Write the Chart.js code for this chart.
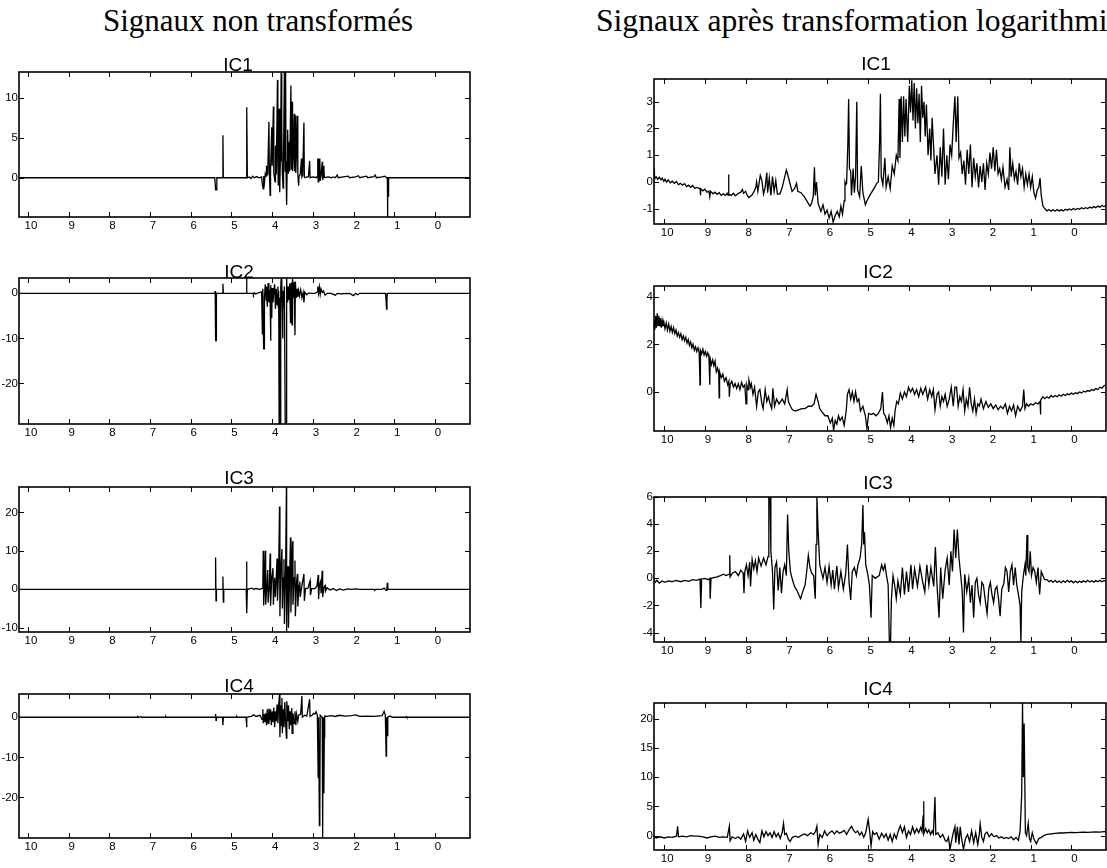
<!DOCTYPE html>
<html>
<head>
<meta charset="utf-8">
<script src="https://cdn.jsdelivr.net/npm/chart.js@4.4.0/dist/chart.umd.min.js"></script>
<style>
  html, body { margin: 0; padding: 0; background: #fff; }
  body { width: 1107px; height: 868px; position: relative; overflow: hidden; }
  canvas { position: absolute; }
  .main { position: absolute; font-family: 'Liberation Serif', 'Times New Roman', serif; font-size: 31px; line-height: 1; white-space: nowrap; color: #000; z-index: 2; }
  .sub { position: absolute; width: 100px; text-align: center; font-family: 'Liberation Sans', Arial, sans-serif; font-size: 19px; line-height: 1; color: #000; z-index: 2; }
</style>
</head>
<body>
<div class="main" style="left:103px; top:5px;">Signaux non transformés</div>
<div class="main" style="left:596px; top:5px; font-size:31.6px;">Signaux après transformation logarithmique</div>
<div class="sub" style="left:188px; top:55px;">IC1</div>
<div class="sub" style="left:189px; top:262px;">IC2</div>
<div class="sub" style="left:189px; top:468px;">IC3</div>
<div class="sub" style="left:189px; top:676px;">IC4</div>
<div class="sub" style="left:826px; top:54px;">IC1</div>
<div class="sub" style="left:828px; top:262px;">IC2</div>
<div class="sub" style="left:828px; top:473px;">IC3</div>
<div class="sub" style="left:828px; top:679px;">IC4</div>
<script>
// ---- data: chemical shift (ppm) vs intensity ----
const ppmTicks = [10, 9, 8, 7, 6, 5, 4, 3, 2, 1, 0];
const ppmMin = -0.86;
const ppmMax = 10.22;

const rawIC1Ticks = [0, 5, 10];
const rawIC2Ticks = [-20, -10, 0];
const rawIC3Ticks = [-10, 0, 10, 20];
const rawIC4Ticks = [-20, -10, 0];
const logIC1Ticks = [-1, 0, 1, 2, 3];
const logIC2Ticks = [0, 2, 4];
const logIC3Ticks = [-4, -2, 0, 2, 4, 6];
const logIC4Ticks = [0, 5, 10, 15, 20];

const rawIC1 = [
  [10.22,0],[5.41,0],[5.39,-1.5],[5.37,-1.5],[5.36,0],[5.22,0],[5.21,5.3],[5.20,0],
  [4.64,0],[4.63,2.8],[4.62,8.8],[4.61,0],[4.56,0.1],[4.52,-0.1],[4.48,0.2],[4.44,0],[4.38,0.15],[4.32,0],
  [4.26,0.1],[4.24,-0.9],[4.22,-1.4],[4.21,0.2],[4.19,-0.6],[4.17,0.5],[4.15,0.2],
  [4.14,1.5],[4.11,0.3],[4.08,7.0],[4.07,0.8],[4.05,-2.2],[4.04,1.0],[4.01,6.3],[4.00,1.5],[3.97,8.9],
  [3.96,0.6],[3.93,-0.5],[3.92,4.0],[3.90,0.4],[3.87,12.2],[3.86,1.5],[3.85,-1.0],[3.83,8.6],[3.82,0.5],
  [3.81,-1.8],[3.79,4.5],[3.78,13.2],[3.77,2.0],[3.76,6.5],[3.75,0.5],[3.73,-1.3],[3.72,3.0],[3.70,13.2],
  [3.69,3.0],[3.68,0.8],[3.67,13.2],[3.66,1.0],[3.645,-3.4],[3.63,2.0],[3.62,6.0],[3.60,0.5],[3.58,4.5],
  [3.57,0.8],[3.54,11.5],[3.53,1.0],[3.51,9.5],[3.50,0.8],[3.48,3.0],[3.46,8.0],[3.45,0.8],[3.43,7.8],
  [3.42,0.6],[3.40,3.5],[3.38,7.7],[3.37,0.5],[3.35,-1.0],[3.34,0.2],[3.31,0.4],[3.28,2.4],[3.27,0.1],
  [3.25,0.3],[3.22,6.9],[3.21,0.1],[3.19,0],[3.15,0.1],[3.11,0.1],[3.08,2.1],[3.07,0],[3.00,0.1],[2.92,0],
  [2.89,0.2],[2.88,2.4],[2.87,-0.5],[2.86,2.4],[2.85,-0.3],[2.83,2.4],[2.82,-0.4],[2.80,0.3],[2.77,2.0],
  [2.76,-0.3],[2.73,1.5],[2.72,0],[2.62,0.1],[2.55,0],[2.50,0.1],[2.45,0],[2.40,0.35],[2.38,0],[2.25,0.1],
  [2.13,0.2],[2.10,0],[1.95,0.1],[1.88,0.25],[1.85,0],[1.68,0.2],[1.65,0],[1.50,0.15],[1.47,0.35],[1.44,0],
  [1.30,0.1],[1.23,0.2],[1.19,0],[1.17,0],[1.165,-4.9],[1.16,-0.5],[1.15,-2.3],[1.14,0],[-0.86,0]
];

const rawIC2 = [
  [10.22,0],[5.41,0],[5.40,0.5],[5.39,-10.5],[5.38,-10.5],[5.37,0],[5.22,0],[5.21,2.1],[5.20,0],
  [4.64,0],[4.63,3.4],[4.62,0],[4.47,0],[4.46,-0.3],[4.44,0.1],[4.40,-0.2],[4.38,0],
  [4.26,0.3],[4.24,-9.0],[4.23,1.0],[4.21,-12.3],[4.20,-12.3],[4.19,-1.0],[4.17,2.0],[4.15,-1.5],[4.14,1.5],
  [4.12,-3.0],[4.10,2.3],[4.08,-2.0],[4.06,0.8],[4.05,-1.0],[4.04,-10.5],[4.03,1.8],[4.01,-5.5],[4.00,1.2],
  [3.98,-2.0],[3.96,0.5],[3.94,2.0],[3.92,-3.5],[3.90,1.0],[3.88,-2.5],[3.86,1.5],[3.85,-3.0],[3.84,0.5],
  [3.83,-29],[3.82,-1.0],[3.80,-29],[3.79,1.0],[3.78,3.4],[3.77,-2.0],[3.76,3.4],[3.74,-10.0],[3.73,0.5],
  [3.72,-3.0],[3.70,1.5],[3.68,-29],[3.67,-29],[3.66,-29],[3.65,-29],[3.64,3.4],[3.63,-1.0],[3.62,-2.0],
  [3.61,1.5],[3.59,-1.5],[3.57,2.2],[3.55,-6.5],[3.54,1.5],[3.53,2.4],[3.51,-7.0],[3.50,3.4],[3.48,-1.0],
  [3.46,2.5],[3.44,-9.3],[3.43,2.6],[3.41,-1.0],[3.39,1.0],[3.37,-0.8],[3.35,0.6],[3.33,-0.6],[3.30,0.8],
  [3.27,-1.0],[3.24,0.2],[3.22,-2.0],[3.20,0.3],[3.15,-0.3],[3.10,0.1],[3.05,0],[2.95,0],[2.89,0.3],
  [2.88,1.5],[2.86,0],[2.84,1.4],[2.82,-0.2],[2.80,1.0],[2.77,0.2],[2.74,0.5],[2.70,-0.4],[2.65,0],
  [2.55,0],[2.45,-0.4],[2.40,0],[2.30,-0.1],[2.10,0],[2.00,-0.5],[1.95,0],[1.90,-0.3],[1.85,0],
  [1.22,0],[1.21,-0.5],[1.19,-3.5],[1.18,-1.0],[1.17,0],[-0.86,0]
];

const rawIC3 = [
  [10.22,0],[5.40,0],[5.39,8.3],[5.38,-3.0],[5.37,0],[5.22,0],[5.21,3.3],[5.20,-3.3],[5.19,0],
  [4.64,0],[4.63,7.2],[4.62,-6.2],[4.61,0],[4.50,0.3],[4.45,0],[4.40,0.2],[4.30,0],
  [4.23,0.3],[4.22,10.0],[4.21,-4.2],[4.19,0.5],[4.17,10.0],[4.16,-4.0],[4.13,1.0],[4.11,5.0],[4.10,-3.5],
  [4.07,1.0],[4.05,9.3],[4.04,-4.3],[4.01,3.0],[3.98,5.5],[3.97,-4.0],[3.94,3.0],[3.92,-2.0],[3.90,3.0],
  [3.88,8.0],[3.87,-3.0],[3.84,5.0],[3.82,21.5],[3.81,-7.0],[3.79,4.0],[3.76,10.5],[3.75,-5.0],[3.73,3.0],
  [3.71,7.8],[3.70,-9.0],[3.67,5.0],[3.65,26.6],[3.645,-11.1],[3.63,4.0],[3.61,6.0],[3.60,-10.0],[3.57,4.0],
  [3.55,13.5],[3.54,-6.0],[3.52,5.0],[3.50,12.5],[3.49,-4.0],[3.46,3.0],[3.44,7.5],[3.43,-7.0],[3.40,2.0],
  [3.38,4.0],[3.37,-4.5],[3.34,1.0],[3.32,2.0],[3.31,-2.0],[3.28,0.3],[3.22,4.0],[3.21,-3.0],[3.18,0.2],
  [3.12,0.3],[3.07,2.2],[3.06,-1.5],[3.03,0.2],[2.95,0.2],[2.90,0.8],[2.87,3.7],[2.86,-2.5],[2.84,1.0],
  [2.81,2.0],[2.80,-1.0],[2.77,4.8],[2.76,-2.0],[2.73,0.5],[2.70,1.0],[2.69,-0.5],[2.65,0.4],[2.58,-0.2],
  [2.50,0.2],[2.42,-0.3],[2.35,0.1],[2.25,-0.2],[2.15,0.1],[2.05,0],[1.95,0.1],[1.85,0],[1.50,0],
  [1.48,-0.3],[1.46,0],[1.30,0],[1.25,0.3],[1.20,-0.3],[1.18,0.5],[1.17,1.7],[1.16,0.2],[1.14,0],[-0.86,0]
];

const rawIC4 = [
  [10.22,0],[7.32,0],[7.30,0.2],[7.27,0],[7.22,0.15],[7.20,0],[6.62,0],[6.61,0.2],[6.60,0],
  [5.40,0],[5.39,0.8],[5.38,-0.8],[5.37,0],[5.22,0],[5.21,-2.0],[5.20,0],[4.88,0],[4.87,0.2],[4.86,0],
  [4.64,0],[4.63,-2.5],[4.62,0],[4.50,0.3],[4.45,0.6],[4.40,0.2],[4.30,0.5],[4.25,-0.5],[4.23,2.0],
  [4.22,-1.5],[4.20,0.8],[4.18,-1.2],[4.16,1.0],[4.14,-2.0],[4.12,2.0],[4.10,-1.5],[4.08,2.2],[4.06,-0.8],
  [4.04,2.0],[4.02,-2.0],[4.00,1.5],[3.98,-1.2],[3.96,2.4],[3.94,-2.5],[3.92,1.5],[3.90,-1.0],[3.88,3.2],
  [3.86,-1.5],[3.84,3.0],[3.82,5.8],[3.81,-5.0],[3.79,3.0],[3.78,-2.0],[3.76,4.8],[3.75,-4.0],[3.73,2.0],
  [3.71,-2.5],[3.69,3.8],[3.67,-1.5],[3.65,-5.2],[3.64,4.0],[3.62,-1.0],[3.60,3.0],[3.58,-3.0],[3.56,1.5],
  [3.55,-2.0],[3.52,2.3],[3.51,-4.0],[3.49,1.0],[3.46,-1.5],[3.44,1.5],[3.42,-2.0],[3.40,0.8],[3.37,-1.0],
  [3.35,0.5],[3.30,0.8],[3.27,5.3],[3.26,0],[3.20,0.5],[3.15,0.3],[3.08,4.5],[3.07,0.2],[3.02,0.5],
  [2.98,1.0],[2.95,0.8],[2.92,1.4],[2.89,0.5],[2.88,0.5],[2.87,-15],[2.86,0],[2.84,-27],[2.83,-26],
  [2.82,0.5],[2.77,0],[2.76,-30.1],[2.75,0],[2.73,-19],[2.72,-5],[2.71,0.3],[2.65,0.2],[2.55,0.4],
  [2.45,0.2],[2.35,0.5],[2.20,0.3],[2.05,0.4],[1.95,0.6],[1.85,0.2],[1.70,0.3],[1.50,0.2],[1.30,0.4],
  [1.25,1.5],[1.22,0.5],[1.20,-9.7],[1.19,0],[1.17,-4.6],[1.16,0],[1.10,0.3],[1.05,0],[0.72,0],
  [0.70,0.2],[0.69,0],[-0.86,0]
];

const logIC1 = [
  [10.25,0.5],[10.24,0.1],[10.20,0.2],[10.16,0.1],[10.12,0.18],[10.08,0.08],[10.05,0.15],[10.01,0.03],
  [9.98,0.1],[9.94,0.0],[9.90,0.08],[9.85,-0.03],[9.80,0.03],[9.75,-0.05],[9.70,0.02],[9.65,-0.1],
  [9.60,-0.05],[9.55,-0.12],[9.50,-0.06],[9.45,-0.17],[9.40,-0.12],[9.35,-0.2],[9.30,-0.13],[9.25,-0.24],
  [9.20,-0.2],[9.12,-0.25],[9.11,-0.5],[9.10,-0.25],[9.05,-0.33],[9.00,-0.27],[8.95,-0.38],[8.90,-0.34],
  [8.88,-0.55],[8.86,-0.35],[8.80,-0.44],[8.75,-0.38],[8.70,-0.46],[8.65,-0.4],[8.60,-0.5],[8.55,-0.44],
  [8.50,-0.5],[8.45,-0.42],[8.43,-0.5],[8.42,0.28],[8.41,-0.45],[8.35,-0.5],[8.30,-0.42],[8.25,-0.52],
  [8.20,-0.45],[8.12,-0.38],[8.08,-0.28],[8.05,-0.42],[8.00,-0.35],[7.96,-0.5],[7.92,-0.58],[7.85,-0.5],
  [7.80,-0.38],[7.75,-0.2],[7.73,0.0],[7.70,-0.35],[7.64,0.25],[7.60,0.05],[7.56,-0.45],[7.52,-0.2],
  [7.48,0.35],[7.46,-0.4],[7.42,0.15],[7.38,-0.5],[7.34,0.2],[7.30,-0.35],[7.26,0.05],[7.22,-0.45],
  [7.16,-0.45],[7.10,-0.2],[7.00,0.45],[6.97,0.3],[6.92,0.0],[6.86,-0.35],[6.80,-0.25],[6.75,-0.05],
  [6.72,-0.35],[6.64,-0.4],[6.56,-0.55],[6.48,-0.75],[6.42,-0.9],[6.38,-0.8],[6.34,-0.55],[6.31,0.55],
  [6.29,-0.5],[6.26,0.0],[6.22,-0.8],[6.15,-1.1],[6.10,-0.85],[6.05,-1.2],[6.00,-1.05],[5.95,-1.35],
  [5.90,-1.1],[5.85,-1.5],[5.80,-1.25],[5.75,-1.1],[5.70,-1.3],[5.66,-0.9],[5.62,-1.2],[5.58,-0.7],
  [5.56,0.0],[5.54,-0.1],[5.52,-0.05],[5.49,1.4],[5.47,3.1],[5.45,0.5],[5.42,0.4],[5.40,-0.5],[5.36,0.5],
  [5.33,-0.4],[5.30,0.2],[5.27,3.0],[5.25,-0.3],[5.20,-0.55],[5.16,0.6],[5.12,-0.4],[5.06,-0.85],
  [5.02,-0.7],[4.95,-0.5],[4.85,-0.25],[4.78,-0.05],[4.74,0.0],[4.71,1.5],[4.69,3.3],[4.67,0.2],
  [4.63,-0.1],[4.58,0.9],[4.55,-0.2],[4.50,0.2],[4.45,-0.25],[4.40,0.6],[4.35,0.3],[4.30,1.0],[4.26,0.8],
  [4.23,3.1],[4.21,0.9],[4.18,3.2],[4.15,1.5],[4.12,3.2],[4.09,1.7],[4.06,3.1],[4.02,1.5],[3.98,3.6],
  [3.95,2.6],[3.92,3.8],[3.89,2.3],[3.86,3.7],[3.83,2.0],[3.80,3.5],[3.77,2.2],[3.74,3.3],[3.71,1.5],
  [3.68,3.6],[3.65,2.4],[3.62,3.0],[3.59,1.7],[3.56,2.9],[3.52,1.0],[3.48,2.0],[3.45,0.8],[3.42,2.4],
  [3.38,1.2],[3.35,0.3],[3.30,1.0],[3.26,-0.1],[3.22,1.3],[3.18,0.2],[3.14,2.0],[3.10,-0.1],[3.06,1.0],
  [3.02,0.1],[2.98,1.4],[2.94,1.0],[2.90,2.2],[2.86,3.2],[2.83,1.5],[2.79,3.2],[2.76,0.9],[2.72,1.1],
  [2.68,0.3],[2.64,0.8],[2.60,-0.1],[2.56,1.2],[2.52,0.3],[2.48,1.4],[2.44,-0.2],[2.40,0.9],[2.36,0.2],
  [2.32,0.7],[2.28,-0.2],[2.24,0.6],[2.20,0.0],[2.16,0.7],[2.12,-0.3],[2.08,0.7],[2.04,0.3],[2.00,1.1],
  [1.96,0.5],[1.92,1.3],[1.88,0.4],[1.84,1.2],[1.80,0.3],[1.76,0.5],[1.72,0.1],[1.68,0.55],[1.63,-0.2],
  [1.58,0.1],[1.54,-0.3],[1.51,1.3],[1.48,0.2],[1.44,0.7],[1.40,0.1],[1.36,0.4],[1.32,-0.1],[1.28,0.7],
  [1.24,0.2],[1.20,0.5],[1.16,-0.2],[1.12,0.3],[1.08,-0.1],[1.04,0.3],[1.00,-0.2],[0.96,0.2],[0.92,-0.4],
  [0.88,-0.6],[0.84,-0.3],[0.80,-0.2],[0.77,0.15],[0.74,-0.5],[0.70,-0.9],[0.64,-1.02],[0.60,-1.08],
  [0.55,-1.03],[0.50,-1.09],[0.45,-1.04],[0.40,-1.09],[0.35,-1.03],[0.30,-1.08],[0.25,-1.04],[0.20,-1.08],
  [0.15,-1.02],[0.10,-1.06],[0.05,-1.01],[0.00,-1.05],[-0.05,-0.99],[-0.10,-1.04],[-0.15,-0.99],
  [-0.20,-1.02],[-0.25,-0.96],[-0.30,-1.0],[-0.35,-0.96],[-0.40,-0.99],[-0.45,-0.94],[-0.50,-0.97],
  [-0.55,-0.92],[-0.60,-0.96],[-0.65,-0.9],[-0.70,-0.94],[-0.75,-0.88],[-0.80,-0.92],[-0.86,-0.88]
];

const logIC2 = [
  [10.25,3.0],[10.23,2.6],[10.21,3.2],[10.19,2.7],[10.17,3.3],[10.15,2.8],[10.13,3.2],[10.11,2.75],
  [10.09,3.1],[10.07,2.7],[10.05,3.0],[10.03,2.75],[10.01,2.95],[9.98,2.65],[9.95,2.9],[9.92,2.6],
  [9.89,2.85],[9.86,2.55],[9.83,2.75],[9.80,2.5],[9.77,2.7],[9.74,2.45],[9.71,2.6],[9.68,2.35],[9.65,2.5],
  [9.62,2.3],[9.59,2.45],[9.56,2.2],[9.53,2.35],[9.50,2.15],[9.47,2.3],[9.44,2.05],[9.41,2.2],[9.38,1.95],
  [9.35,2.1],[9.32,1.85],[9.29,2.0],[9.26,1.75],[9.23,1.9],[9.20,1.7],[9.17,1.85],[9.14,1.65],[9.12,0.3],
  [9.11,1.75],[9.08,1.6],[9.05,1.8],[9.02,1.55],[8.99,1.7],[8.96,1.5],[8.93,1.65],[8.90,1.45],[8.88,0.3],
  [8.87,1.4],[8.84,1.15],[8.81,1.35],[8.78,1.1],[8.75,1.3],[8.72,0.85],[8.69,1.0],[8.66,0.75],[8.65,-0.25],
  [8.64,0.85],[8.60,0.6],[8.56,0.75],[8.52,0.45],[8.48,0.6],[8.44,0.3],[8.41,0.45],[8.40,-0.2],[8.38,0.3],
  [8.34,0.45],[8.30,0.2],[8.26,0.35],[8.22,0.15],[8.18,0.35],[8.14,0.1],[8.10,0.4],[8.06,0.2],[8.02,0.3],
  [7.99,-0.5],[7.97,0.3],[7.94,0.1],[7.92,0.5],[7.88,0.2],[7.86,0.35],[7.82,-0.1],[7.78,0.2],[7.73,-0.6],
  [7.69,0.0],[7.65,0.1],[7.60,-0.5],[7.57,-0.7],[7.52,0.1],[7.48,-0.4],[7.44,-0.2],[7.40,-0.5],[7.36,-0.7],
  [7.33,0.15],[7.29,-0.6],[7.24,-0.3],[7.18,-0.5],[7.10,-0.3],[7.04,-0.5],[6.98,0.1],[6.95,-0.4],
  [6.90,-0.6],[6.85,-0.75],[6.78,-0.8],[6.70,-0.75],[6.62,-0.7],[6.54,-0.7],[6.46,-0.6],[6.38,-0.6],
  [6.32,-0.5],[6.27,-0.1],[6.22,-0.4],[6.18,-0.7],[6.12,-0.85],[6.05,-1.0],[5.98,-1.0],[5.92,-1.3],
  [5.87,-1.1],[5.84,-1.6],[5.80,-1.2],[5.76,-1.35],[5.72,-1.0],[5.68,-1.2],[5.63,-1.05],[5.58,-1.4],
  [5.53,-0.8],[5.50,-0.1],[5.46,0.1],[5.42,-0.3],[5.38,0.0],[5.34,-0.4],[5.30,0.0],[5.26,-0.4],[5.22,-0.3],
  [5.18,-0.8],[5.12,-0.6],[5.06,-1.0],[5.02,-1.55],[4.98,-0.9],[4.92,-0.95],[4.86,-0.9],[4.80,-1.0],
  [4.74,-0.9],[4.68,-0.7],[4.64,0.0],[4.61,-0.9],[4.57,-1.0],[4.52,-1.3],[4.48,-1.0],[4.44,-1.5],
  [4.40,-1.1],[4.36,-1.4],[4.33,-0.8],[4.29,-0.4],[4.25,-0.5],[4.20,-0.05],[4.15,-0.3],[4.10,0.0],
  [4.05,-0.2],[4.00,0.2],[3.95,0.0],[3.90,0.15],[3.85,-0.1],[3.80,0.1],[3.75,-0.2],[3.70,0.15],[3.65,-0.1],
  [3.58,0.2],[3.53,-0.3],[3.48,0.1],[3.43,-0.2],[3.39,0.1],[3.35,-0.75],[3.30,-0.1],[3.26,0.0],[3.22,-0.6],
  [3.18,-0.2],[3.14,-0.4],[3.10,-0.1],[3.05,-0.6],[3.00,-0.3],[2.95,0.2],[2.90,-0.6],[2.86,0.2],[2.82,0.2],
  [2.78,-0.6],[2.74,-0.2],[2.70,-0.4],[2.66,0.1],[2.62,-0.8],[2.58,-0.3],[2.54,-0.6],[2.50,0.2],[2.46,-0.5],
  [2.42,-0.8],[2.38,-0.3],[2.34,-0.9],[2.30,-0.5],[2.26,-0.6],[2.22,-0.3],[2.16,-0.7],[2.10,-0.4],
  [2.04,-0.65],[1.98,-0.5],[1.92,-0.7],[1.86,-0.55],[1.80,-0.75],[1.74,-0.6],[1.68,-0.7],[1.62,-0.5],
  [1.57,-0.9],[1.52,-0.6],[1.47,-0.8],[1.42,-0.55],[1.37,-1.0],[1.32,-0.6],[1.26,-0.8],[1.20,-0.6],
  [1.17,0.1],[1.14,-0.7],[1.10,-0.5],[1.05,-0.6],[1.00,-0.5],[0.94,-0.55],[0.88,-0.45],[0.82,-0.5],
  [0.77,-0.4],[0.76,-0.95],[0.75,-0.35],[0.70,-0.2],[0.65,-0.28],[0.60,-0.2],[0.55,-0.26],[0.50,-0.15],
  [0.45,-0.22],[0.40,-0.15],[0.35,-0.2],[0.30,-0.12],[0.25,-0.18],[0.20,-0.1],[0.15,-0.15],[0.10,-0.08],
  [0.05,-0.12],[0.00,-0.05],[-0.05,-0.1],[-0.10,-0.03],[-0.15,-0.07],[-0.20,0.0],[-0.25,-0.04],
  [-0.30,0.03],[-0.35,0.0],[-0.40,0.06],[-0.45,0.03],[-0.50,0.1],[-0.55,0.06],[-0.60,0.14],[-0.65,0.1],
  [-0.70,0.2],[-0.75,0.16],[-0.80,0.26],[-0.86,0.3]
];

const logIC3 = [
  [10.25,-0.1],[10.22,-0.3],[10.18,-0.15],[10.12,-0.35],[10.05,-0.2],[9.98,-0.3],[9.90,-0.2],[9.80,-0.25],
  [9.70,-0.15],[9.60,-0.25],[9.50,-0.15],[9.40,-0.22],[9.30,-0.1],[9.20,-0.15],[9.12,-0.05],[9.10,-2.2],
  [9.08,-0.05],[9.00,0.0],[8.92,-0.1],[8.88,0.0],[8.87,-1.5],[8.85,0.0],[8.78,0.05],[8.70,0.1],[8.62,0.2],
  [8.55,0.3],[8.48,0.2],[8.40,0.3],[8.39,1.7],[8.38,0.1],[8.32,0.4],[8.25,0.5],[8.18,0.2],[8.12,0.6],
  [8.06,0.4],[8.04,-1.1],[8.02,0.5],[7.98,1.0],[7.94,0.2],[7.90,1.2],[7.88,-0.6],[7.84,1.4],[7.80,0.7],
  [7.76,1.3],[7.72,0.5],[7.68,1.5],[7.62,0.9],[7.56,1.5],[7.50,1.0],[7.45,1.6],[7.43,6.0],[7.40,6.0],
  [7.38,2.0],[7.34,0.5],[7.31,-2.3],[7.28,0.8],[7.24,1.2],[7.20,-0.9],[7.16,0.8],[7.12,-1.1],[7.08,0.5],
  [7.04,1.0],[7.00,0.2],[6.97,4.7],[6.94,2.0],[6.90,0.5],[6.86,0.0],[6.80,-0.6],[6.74,-0.9],[6.68,-1.3],
  [6.65,-1.5],[6.60,-1.0],[6.54,-0.5],[6.50,0.5],[6.46,1.7],[6.42,0.8],[6.38,0.4],[6.33,0.2],[6.29,-1.5],
  [6.27,2.5],[6.25,6.0],[6.22,3.5],[6.18,1.0],[6.14,0.5],[6.10,0.0],[6.05,0.8],[6.00,-0.3],[5.95,0.9],
  [5.90,-0.5],[5.86,0.6],[5.82,-0.8],[5.76,0.9],[5.72,-0.7],[5.66,0.5],[5.60,-0.8],[5.54,0.4],[5.50,2.5],
  [5.46,-0.3],[5.42,-1.6],[5.38,0.5],[5.33,0.8],[5.28,0.2],[5.24,1.0],[5.19,1.5],[5.15,2.5],[5.12,5.4],
  [5.10,2.5],[5.08,3.4],[5.05,1.0],[5.00,0.3],[4.96,-0.5],[4.92,-2.9],[4.89,0.2],[4.82,0.0],[4.72,0.2],
  [4.66,1.0],[4.62,0.6],[4.58,1.0],[4.54,0.2],[4.50,-0.5],[4.47,-4.7],[4.44,-4.7],[4.42,-1.5],[4.38,0.2],
  [4.34,-0.5],[4.30,-1.5],[4.26,-0.2],[4.20,-1.2],[4.15,0.8],[4.10,-1.2],[4.05,0.5],[4.00,-1.0],[3.94,1.0],
  [3.90,-0.8],[3.85,0.7],[3.78,-0.6],[3.72,0.9],[3.65,-0.3],[3.60,-1.0],[3.55,1.0],[3.50,-0.5],[3.45,0.8],
  [3.38,-0.6],[3.34,2.3],[3.30,-0.5],[3.25,-2.9],[3.21,0.8],[3.16,-1.5],[3.10,0.6],[3.05,1.5],[3.00,-0.5],
  [2.96,2.0],[2.92,0.5],[2.88,3.6],[2.84,1.5],[2.80,3.6],[2.76,1.5],[2.72,0.3],[2.68,-1.0],[2.65,-4.0],
  [2.62,0.3],[2.57,-1.0],[2.52,0.0],[2.48,-1.8],[2.44,-0.5],[2.40,-2.9],[2.36,-0.3],[2.32,0.0],[2.28,-1.2],
  [2.24,-1.8],[2.20,-0.3],[2.16,-0.5],[2.12,-1.5],[2.07,-2.6],[2.03,-0.8],[1.99,-0.3],[1.95,-1.2],
  [1.91,-1.8],[1.87,-0.8],[1.83,-0.6],[1.79,-1.5],[1.75,-2.8],[1.71,-0.8],[1.66,-0.4],[1.62,0.8],[1.58,0.5],
  [1.54,-1.0],[1.50,0.5],[1.46,1.0],[1.42,-0.5],[1.38,0.8],[1.34,-0.5],[1.30,-1.2],[1.26,-2.0],[1.24,-4.7],
  [1.22,-1.0],[1.18,0.2],[1.14,1.0],[1.12,0.2],[1.09,3.2],[1.07,0.8],[1.04,0.5],[1.01,2.0],[0.98,0.2],
  [0.94,0.8],[0.90,0.5],[0.86,-0.3],[0.82,0.8],[0.78,-1.2],[0.74,0.5],[0.70,0.2],[0.66,-0.1],[0.60,-0.1],
  [0.55,-0.25],[0.50,-0.15],[0.45,-0.3],[0.40,-0.15],[0.35,-0.3],[0.30,-0.2],[0.25,-0.32],[0.20,-0.18],
  [0.15,-0.3],[0.10,-0.15],[0.05,-0.28],[0.00,-0.18],[-0.05,-0.33],[-0.10,-0.2],[-0.15,-0.32],[-0.20,-0.22],
  [-0.25,-0.3],[-0.30,-0.18],[-0.35,-0.28],[-0.40,-0.15],[-0.45,-0.27],[-0.50,-0.18],[-0.55,-0.28],
  [-0.60,-0.17],[-0.65,-0.26],[-0.70,-0.15],[-0.75,-0.25],[-0.80,-0.17],[-0.86,-0.22]
];

const logIC4 = [
  [10.25,0.0],[10.20,-0.4],[10.10,-0.2],[10.00,-0.4],[9.90,-0.2],[9.80,-0.3],[9.70,-0.1],[9.67,1.6],
  [9.65,-0.2],[9.55,-0.1],[9.45,-0.2],[9.35,0.0],[9.25,-0.1],[9.15,-0.1],[9.05,-0.2],[8.95,-0.4],
  [8.85,-0.2],[8.75,-0.1],[8.65,-0.3],[8.55,-0.2],[8.45,-0.3],[8.40,1.6],[8.38,-0.9],[8.33,-0.2],
  [8.25,-0.5],[8.18,-0.2],[8.12,-0.6],[8.05,0.3],[8.00,-1.0],[7.95,0.8],[7.90,-0.3],[7.84,0.5],[7.80,-0.8],
  [7.75,0.2],[7.70,-0.6],[7.65,-1.2],[7.60,0.8],[7.55,-0.2],[7.50,0.7],[7.45,0.0],[7.40,0.5],[7.35,-0.3],
  [7.30,0.7],[7.25,-0.2],[7.20,0.4],[7.15,-0.5],[7.10,0.6],[7.07,2.1],[7.04,0.2],[7.00,0.4],[6.95,-0.6],
  [6.91,-1.0],[6.85,-0.3],[6.78,-0.1],[6.70,-0.3],[6.62,0.1],[6.55,0.3],[6.48,0.0],[6.40,0.5],[6.33,0.2],
  [6.28,0.8],[6.25,1.6],[6.22,-1.5],[6.18,0.2],[6.12,-0.3],[6.06,0.8],[6.00,0.0],[5.94,0.5],[5.88,0.8],
  [5.82,0.3],[5.76,0.8],[5.70,0.4],[5.64,0.6],[5.58,0.9],[5.52,0.2],[5.46,1.0],[5.40,1.6],[5.35,0.9],
  [5.30,0.5],[5.25,0.8],[5.20,0.1],[5.15,0.6],[5.10,-0.3],[5.05,0.5],[4.99,2.8],[4.95,0.5],[4.92,-1.8],
  [4.88,0.7],[4.84,0.2],[4.78,0.5],[4.72,-0.6],[4.66,0.4],[4.60,-0.3],[4.55,0.3],[4.50,-0.8],[4.45,0.2],
  [4.40,-1.0],[4.35,0.3],[4.30,-0.5],[4.25,0.8],[4.20,1.7],[4.15,0.5],[4.10,1.5],[4.05,-0.3],[4.00,0.8],
  [3.95,0.2],[3.90,1.5],[3.85,0.4],[3.80,1.2],[3.75,0.5],[3.70,1.4],[3.67,0.7],[3.64,3.5],[3.63,5.9],
  [3.62,0.3],[3.58,1.2],[3.54,0.5],[3.50,1.0],[3.46,0.2],[3.42,0.8],[3.39,0.3],[3.35,6.6],[3.33,0.2],
  [3.28,0.5],[3.22,-0.3],[3.16,0.2],[3.10,-0.8],[3.06,-1.0],[3.02,-0.3],[2.98,-2.3],[2.94,-0.8],[2.90,0.5],
  [2.86,1.5],[2.84,-1.2],[2.80,1.5],[2.76,-1.5],[2.73,1.5],[2.69,-0.8],[2.65,-2.3],[2.60,-0.5],[2.55,0.2],
  [2.50,-1.0],[2.45,0.8],[2.40,-1.2],[2.35,0.5],[2.30,-1.5],[2.26,0.3],[2.24,2.0],[2.20,-0.3],[2.16,-1.0],
  [2.12,0.3],[2.07,0.6],[2.02,-0.2],[1.96,0.3],[1.90,-0.2],[1.84,0.0],[1.78,-0.4],[1.72,-0.2],[1.66,-0.5],
  [1.60,-0.3],[1.54,-0.5],[1.48,-0.2],[1.42,-0.7],[1.36,-0.3],[1.30,-0.8],[1.26,0.8],[1.22,7.0],
  [1.20,22.7],[1.18,10.0],[1.16,19.2],[1.13,0.5],[1.10,0.0],[1.06,2.1],[1.03,-0.5],[1.00,-1.0],[0.96,0.5],
  [0.92,-0.6],[0.86,-1.4],[0.80,-0.5],[0.74,-0.3],[0.68,0.0],[0.60,0.2],[0.50,0.3],[0.40,0.4],[0.30,0.45],
  [0.20,0.45],[0.10,0.5],[0.00,0.55],[-0.10,0.5],[-0.20,0.55],[-0.30,0.6],[-0.40,0.55],[-0.50,0.6],
  [-0.60,0.65],[-0.70,0.6],[-0.80,0.7],[-0.86,0.7]
];

// ---- layout ----
const AX_W = 40, AX_H = 22, PAD_T = 14, PAD_R = 8;
const tickFont = { family: "'Liberation Sans', Arial, sans-serif", size: 11.5 };

// inward ticks on all four sides + box frame (Matlab look)
const frameTicks = {
  id: 'frameTicks',
  afterDatasetsDraw(chart) {
    const { ctx, chartArea: a, scales: { x, y } } = chart;
    ctx.save();
    ctx.strokeStyle = '#000';
    ctx.lineWidth = 1;
    ctx.beginPath();
    x.ticks.forEach(t => {
      const px = Math.round(x.getPixelForValue(t.value)) + 0.5;
      ctx.moveTo(px, a.bottom); ctx.lineTo(px, a.bottom - 5);
      ctx.moveTo(px, a.top); ctx.lineTo(px, a.top + 5);
    });
    y.ticks.forEach(t => {
      const py = Math.round(y.getPixelForValue(t.value)) + 0.5;
      ctx.moveTo(a.left, py); ctx.lineTo(a.left + 5, py);
      ctx.moveTo(a.right, py); ctx.lineTo(a.right - 5, py);
    });
    ctx.stroke();
    ctx.lineWidth = 1.6;
    ctx.strokeRect(a.left, a.top, a.right - a.left, a.bottom - a.top);
    ctx.restore();
  }
};

function makePanel(series, yTicks, yMin, yMax, xMin, xMax, box) {
  const [left, top, right, bottom] = box;
  const cv = document.createElement('canvas');
  const w = right - left + AX_W + PAD_R;
  const h = bottom - top + PAD_T + AX_H;
  cv.width = w; cv.height = h;
  cv.style.left = (left - AX_W) + 'px';
  cv.style.top = (top - PAD_T) + 'px';
  cv.style.width = w + 'px'; cv.style.height = h + 'px';
  document.body.appendChild(cv);

  new Chart(cv, {
    type: 'line',
    data: {
      datasets: [{
        data: series.map(([x, y]) => ({ x, y })),
        borderColor: '#000', borderWidth: 1.3, pointRadius: 0, tension: 0, fill: false
      }]
    },
    options: {
      responsive: false, animation: false, events: [],
      layout: { padding: { top: PAD_T, right: PAD_R, left: 0, bottom: 0 } },
      plugins: { legend: { display: false }, tooltip: { enabled: false }, title: { display: false } },
      scales: {
        x: {
          type: 'linear', reverse: true, min: xMin, max: xMax,
          afterBuildTicks: s => { s.ticks = ppmTicks.map(v => ({ value: v })); },
          afterFit: s => { s.height = AX_H; },
          grid: { display: false, drawTicks: false }, border: { display: false },
          ticks: { color: '#000', font: tickFont, padding: 2, labelOffset: 3, maxRotation: 0, autoSkip: false }
        },
        y: {
          type: 'linear', min: yMin, max: yMax,
          afterBuildTicks: s => { s.ticks = yTicks.map(v => ({ value: v })); },
          afterFit: s => { s.width = AX_W; },
          grid: { display: false, drawTicks: false }, border: { display: false },
          ticks: { color: '#000', font: tickFont, padding: 1, autoSkip: false }
        }
      }
    },
    plugins: [frameTicks]
  });
}

makePanel(rawIC1, rawIC1Ticks, -4.9, 13.2, ppmMin, ppmMax, [19, 72, 470, 217]);
makePanel(rawIC2, rawIC2Ticks, -29, 3.4, ppmMin, ppmMax, [19, 278, 470, 424]);
makePanel(rawIC3, rawIC3Ticks, -11.1, 26.6, ppmMin, ppmMax, [19, 487, 470, 632]);
makePanel(rawIC4, rawIC4Ticks, -30.1, 5.8, ppmMin, ppmMax, [19, 694, 470, 838]);
makePanel(logIC1, logIC1Ticks, -1.57, 3.85, -0.85, 10.25, [654, 79, 1106, 224]);
makePanel(logIC2, logIC2Ticks, -1.64, 4.45, -0.85, 10.25, [654, 286, 1106, 431]);
makePanel(logIC3, logIC3Ticks, -4.7, 6.0, -0.85, 10.25, [654, 497, 1106, 642]);
makePanel(logIC4, logIC4Ticks, -2.46, 22.7, -0.85, 10.25, [654, 703, 1106, 850]);
</script>
</body>
</html>
